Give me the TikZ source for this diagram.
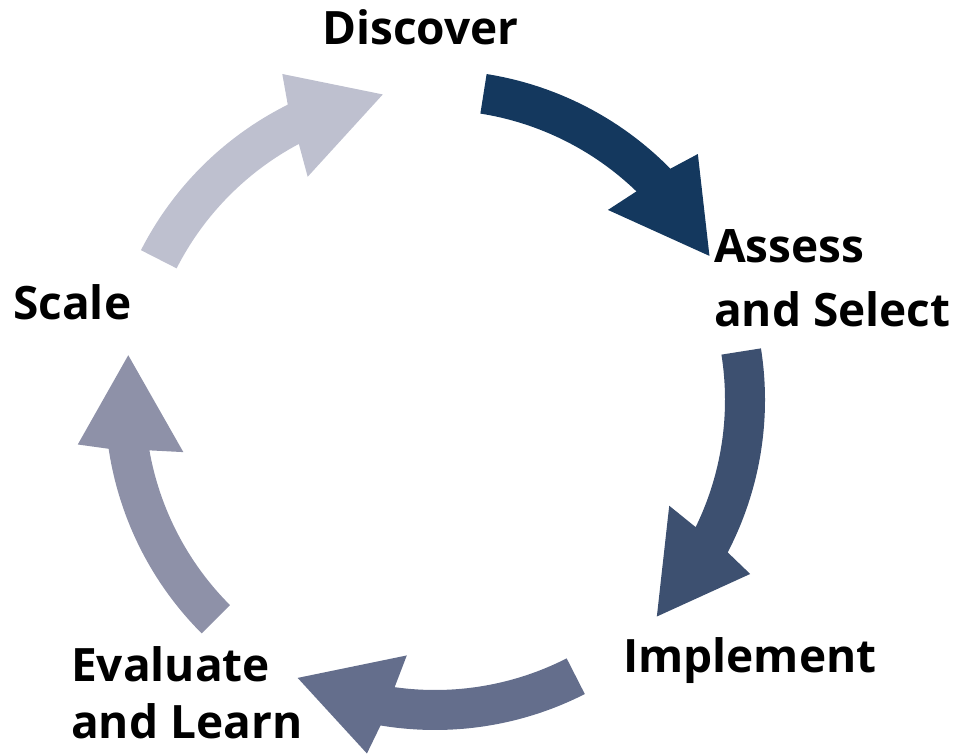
\documentclass[tikz,border=0pt]{standalone}
\usepackage{xcolor}
\usepackage{fontspec}
\setmainfont{Open Sans}
\definecolor{cyclenavy}{RGB}{20,56,94}
\definecolor{cycleslate}{RGB}{61,80,112}
\definecolor{cyclesteel}{RGB}{100,110,140}
\definecolor{cyclegrey}{RGB}{142,145,168}
\definecolor{cyclemist}{RGB}{190,192,207}
\usepackage{tikz}
\tikzstyle{stage} = [anchor=base west, inner sep=0pt, align=left,
  font=\bfseries\fontsize{46}{64}\selectfont]

% one curved arrow of the cycle, turned by #1 degrees round the centre
\newcommand{\cyclearrow}[2]{%
  \fill[#2, shift={(435,353)}, rotate=#1]
    (81:330pt) arc[start angle=81, end angle=44.5, radius=330pt]
    -- (43.1:360pt) -- (27.7:310pt) -- (47.7:257pt) -- (46:290pt)
    arc[start angle=46, end angle=81, radius=290pt] -- cycle;}

\begin{document}
\begin{tikzpicture}[x=1pt, y=1pt]
  \useasboundingbox (0,0) rectangle (964,753);
  % arrows, clockwise from the top
  \cyclearrow{0}{cyclenavy}
  \cyclearrow{-72}{cycleslate}
  \cyclearrow{-144}{cyclesteel}
  \cyclearrow{-216}{cyclegrey}
  \cyclearrow{-288}{cyclemist}
  % stages (base is the last line)
  \node[stage] (discover) at (322, 708) {Discover};
  \node[stage] (assess) at (714, 426) {Assess\\and Select};
  \node[stage] (implement) at (623, 81) {Implement};
  \node[stage, font=\bfseries\fontsize{46}{57}\selectfont] (evaluate) at (71, 15) {Evaluate\\and Learn};
  \node[stage] (scale) at (13, 433) {Scale};
\end{tikzpicture}
\end{document}
